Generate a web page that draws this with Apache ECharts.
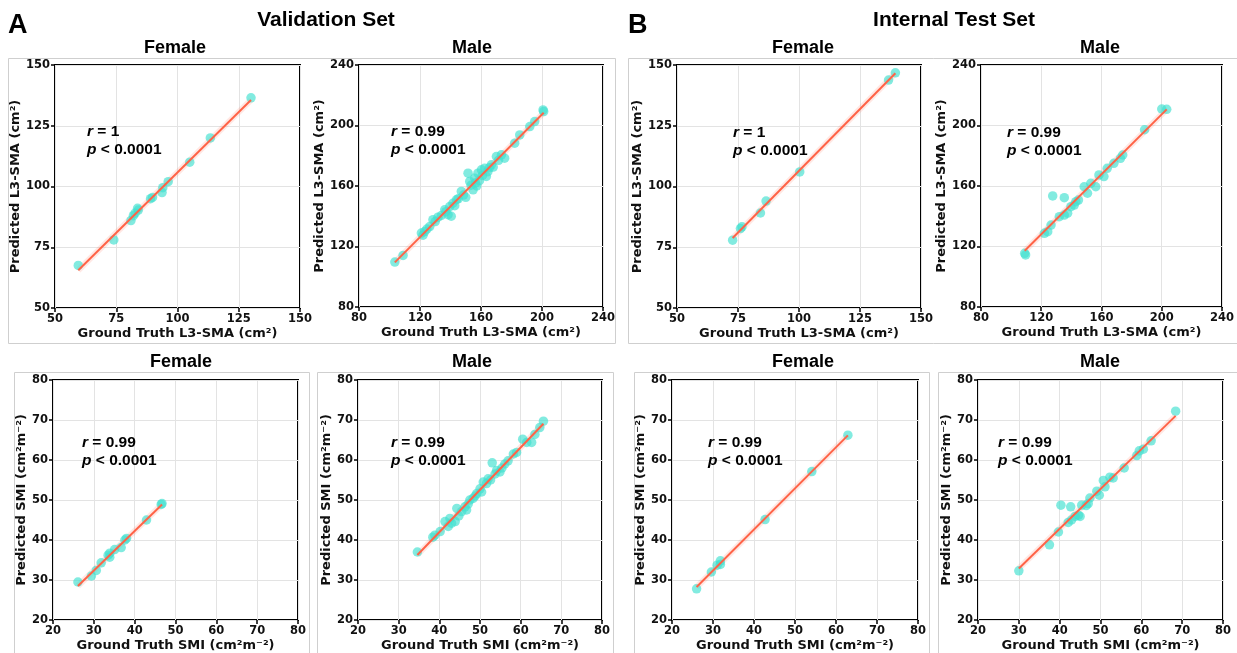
<!DOCTYPE html>
<html>
<head>
<meta charset="utf-8">
<script src="https://cdn.jsdelivr.net/npm/echarts@6/dist/echarts.min.js"></script>
<style>
html,body{margin:0;padding:0;background:#fff;}
#chart{width:1237px;height:653px;}
</style>
</head>
<body>
<div id="chart"></div>
<script>
// ---------------- DATA ----------------
// [ground truth, predicted]
const valFemaleSMA = [[59.5,67.5],[74,78],[81,86],[82,88],[82.7,89],[83.7,91],[84,90.3],[89,95],[89.8,95.5],[93.7,97.5],[94,99.5],[96.2,102],[105,110],[113.4,120],[130,136.5]];
const valMaleSMA = [[103.5,109.7],[108.9,114.1],[120.9,128.9],[122,127.5],[123.1,129.9],[124.5,131.5],[126.4,133.2],[128.5,137.7],[130,136.5],[131.8,139.4],[134,140.5],[136.2,144.3],[137,143],[138.4,141],[139.5,146.4],[140.5,140],[141.6,148.6],[142.8,147],[143.9,150.9],[145,151.5],[147.1,156.4],[148.5,154],[150,152.5],[151.5,168.5],[152.6,163],[153.5,160.5],[154.8,157.5],[155.9,165.2],[156.5,162],[157.2,160],[158,168.5],[159,163.5],[160.3,170.7],[161,167],[162.4,171.8],[163.5,166.3],[164.5,169.5],[165.5,172],[166.8,174],[168,172.5],[170.1,179.5],[171.5,177],[173.4,180.6],[175.5,178.4],[182.1,188.3],[185.4,193.8],[192,199.3],[195.2,202.6],[200.7,210.3],[201.1,209.2]];
const valFemaleSMI = [[26.1,29.5],[29.4,31],[30.6,32.4],[31.8,34.3],[33.5,36.2],[33.9,35.7],[33.9,36.7],[35.1,37.6],[36.7,38.1],[37.6,40],[38,40.4],[42.9,45],[46.5,48.9],[46.7,49.1]];
const valMaleSMI = [[34.6,37],[38.4,40.7],[38.9,41.2],[40.2,42.1],[41.4,44.6],[42.2,43.4],[42.6,45.4],[43,44.2],[43.9,44.6],[44.3,47.9],[44.8,46],[45.5,47.1],[46.3,48.3],[46.7,47.5],[47.1,49],[47.5,50],[48.3,50.4],[48.8,51],[49.2,51.6],[50,52.8],[50.4,52],[50.8,54.5],[51.6,54.1],[52,55.3],[52.6,55],[53,59.3],[53.7,56.5],[54.1,57.4],[54.9,57],[55.4,58],[56.1,59],[56.9,59.8],[58.2,61.5],[59,61.9],[60.5,65.2],[61.5,64.4],[62.7,64.4],[63.5,66.4],[64.7,68.1],[65.6,69.7]];
const testFemaleSMA = [[72.8,77.9],[76,82.7],[76.6,83.4],[84.2,89.1],[86.5,94],[100.3,106],[136.7,143.8],[139.5,146.8]];
const testMaleSMA = [[109,115.5],[109.6,114.4],[122.1,128.7],[124.3,129.8],[126.5,134.2],[127.6,153.4],[135.3,152.3],[132,139.7],[135.3,140.8],[137.5,142],[139.7,146.3],[141.9,147.4],[143,149.6],[144.7,150.7],[148.5,159.5],[150.7,155.2],[152.9,161.8],[156.2,159.5],[158.3,167.3],[161.6,166.2],[163.8,171.7],[168.2,175],[172.6,178.3],[174.1,180.5],[188.6,197.2],[200,210.9],[203.3,210.7]];
const testFemaleSMI = [[26,27.8],[29.6,32],[31,33.7],[31.8,34.8],[31.8,33.9],[42.7,45.1],[54.1,57.1],[62.9,66.2]];
const testMaleSMI = [[30,32.3],[37.5,38.8],[39.7,42],[40.3,48.7],[42.7,48.3],[42.1,44.4],[42.9,45],[43.8,45.9],[44.6,46.2],[45,45.9],[45.4,48.7],[46.5,48.6],[47,49.1],[47.4,50.5],[49.1,52.2],[49.7,51.2],[50.7,54.9],[51.1,53.3],[52.3,55.7],[53.1,55.5],[55.8,58],[58.9,61.1],[59.5,62.3],[60.5,62.7],[62.4,64.8],[68.4,72.2]];

const rValues = ['1','0.99','0.99','0.99','1','0.99','0.99','0.99'];
const pText = '< 0.0001';
const smaTicks = {min:50,max:150,interval:25};
const smaMaleTicks = {min:80,max:240,interval:40};
const smiTicks = {min:20,max:80,interval:10};
const xNameSMA = 'Ground Truth L3-SMA (cm²)';
const yNameSMA = 'Predicted L3-SMA (cm²)';
const xNameSMI = 'Ground Truth SMI (cm²m⁻²)';
const yNameSMI = 'Predicted SMI (cm²m⁻²)';

// ---------------- LAYOUT ----------------
const panels = [
  {data:valFemaleSMA, ax:smaTicks, xn:xNameSMA, yn:yNameSMA, g:{left:55,top:65,width:245,height:243}, ann:[32,67], title:'Female', tx:175, ty:48, ygap:28},
  {data:valMaleSMA, ax:smaMaleTicks, xn:xNameSMA, yn:yNameSMA, g:{left:359,top:65,width:244,height:242}, ann:[32,67], title:'Male', tx:472, ty:48, ygap:28},
  {data:valFemaleSMI, ax:smiTicks, xn:xNameSMI, yn:yNameSMI, g:{left:53,top:380,width:245,height:243}, ann:[29,63], title:'Female', tx:181, ty:362, ygap:19},
  {data:valMaleSMI, ax:smiTicks, xn:xNameSMI, yn:yNameSMI, g:{left:358,top:380,width:244,height:243}, ann:[33,63], title:'Male', tx:472, ty:362, ygap:20},
  {data:testFemaleSMA, ax:smaTicks, xn:xNameSMA, yn:yNameSMA, g:{left:677,top:65,width:244,height:243}, ann:[56,68], title:'Female', tx:803, ty:48, ygap:28},
  {data:testMaleSMA, ax:smaMaleTicks, xn:xNameSMA, yn:yNameSMA, g:{left:981,top:65,width:243,height:242}, ann:[26,68], title:'Male', tx:1100, ty:48, ygap:28},
  {data:testFemaleSMI, ax:smiTicks, xn:xNameSMI, yn:yNameSMI, g:{left:672,top:380,width:246,height:243}, ann:[36,63], title:'Female', tx:803, ty:362, ygap:19},
  {data:testMaleSMI, ax:smiTicks, xn:xNameSMI, yn:yNameSMI, g:{left:978,top:380,width:245,height:243}, ann:[20,63], title:'Male', tx:1100, ty:362, ygap:20}
];

function fit(d){
  const n=d.length; let sx=0,sy=0,sxx=0,sxy=0;
  d.forEach(p=>{sx+=p[0];sy+=p[1];sxx+=p[0]*p[0];sxy+=p[0]*p[1];});
  const b=(n*sxy-sx*sy)/(n*sxx-sx*sx); const a=(sy-b*sx)/n;
  let mn=Infinity,mx=-Infinity; d.forEach(p=>{mn=Math.min(mn,p[0]);mx=Math.max(mx,p[0]);});
  return [[mn,a+b*mn],[mx,a+b*mx]];
}

const tickFont = {fontFamily:'DejaVu Sans',fontWeight:'bold',fontSize:11.5,color:'#111'};
const nameFont = {fontFamily:'DejaVu Sans',fontWeight:'bold',fontSize:13,color:'#111'};

const grids=[],xAxes=[],yAxes=[],series=[],graphics=[];
[[8,58,607,285],[628,58,620,285],[14,372,295,300],[317,372,296,300],[634,372,295,300],[938,372,310,300]].forEach(r=>{
  graphics.push({type:'rect',shape:{x:r[0]+0.5,y:r[1]+0.5,width:r[2],height:r[3]},style:{fill:'none',stroke:'#cfcfcf',lineWidth:1},z:0});
});
panels.forEach((p,i)=>{
  grids.push(Object.assign({show:true,borderColor:'#000',borderWidth:2,backgroundColor:'#fff',containLabel:false},p.g));
  const axCommon = {
    min:p.ax.min,max:p.ax.max,interval:p.ax.interval,gridIndex:i,nameLocation:'middle',
    axisLine:{show:false},
    axisTick:{show:true,inside:false,length:4,lineStyle:{color:'#000',width:1.5}},
    splitLine:{show:true,lineStyle:{color:'#e3e3e3',width:1}},
    nameTextStyle:nameFont
  };
  xAxes.push(Object.assign({},axCommon,{type:'value',name:p.xn,nameGap:19,axisLabel:Object.assign({margin:5},tickFont)}));
  yAxes.push(Object.assign({},axCommon,{type:'value',name:p.yn,nameGap:p.ygap,axisLabel:Object.assign({margin:5},tickFont)}));
  const ln = fit(p.data);
  series.push({type:'line',xAxisIndex:i,yAxisIndex:i,data:ln,symbol:'none',lineStyle:{color:'rgba(255,99,71,0.15)',width:6},z:1,silent:true,animation:false});
  series.push({type:'scatter',xAxisIndex:i,yAxisIndex:i,data:p.data,symbolSize:9.5,itemStyle:{color:'rgba(64,224,208,0.82)'},z:2,animation:false});
  series.push({type:'line',xAxisIndex:i,yAxisIndex:i,data:ln,symbol:'none',lineStyle:{color:'#FF6347',width:2},z:3,silent:true,animation:false});
  graphics.push({type:'text',left:p.g.left+p.ann[0],top:p.g.top+p.ann[1]-9,z:10,
    style:{text:'{i|r} = '+rValues[i]+'\n{i|p} '+pText,fontFamily:'Liberation Sans',fontWeight:'bold',fontSize:15.5,fill:'#000',lineHeight:18,
      rich:{i:{fontStyle:'italic',fontFamily:'Liberation Sans',fontWeight:'bold',fontSize:15.5,lineHeight:18}}}});
  graphics.push({type:'text',x:p.tx,y:p.ty,z:10,style:{text:p.title,fontFamily:'Liberation Sans',fontWeight:'bold',fontSize:18,fill:'#000',textAlign:'center',textVerticalAlign:'middle'}});
});
graphics.push({type:'text',x:326,y:20,style:{text:'Validation Set',fontFamily:'Liberation Sans',fontWeight:'bold',fontSize:21,fill:'#000',textAlign:'center',textVerticalAlign:'middle'}});
graphics.push({type:'text',x:954,y:20,style:{text:'Internal Test Set',fontFamily:'Liberation Sans',fontWeight:'bold',fontSize:21,fill:'#000',textAlign:'center',textVerticalAlign:'middle'}});
graphics.push({type:'text',x:8,y:26,style:{text:'A',fontFamily:'Liberation Sans',fontWeight:'bold',fontSize:27,fill:'#000',textAlign:'left',textVerticalAlign:'middle'}});
graphics.push({type:'text',x:628,y:26,style:{text:'B',fontFamily:'Liberation Sans',fontWeight:'bold',fontSize:27,fill:'#000',textAlign:'left',textVerticalAlign:'middle'}});

const chart = echarts.init(document.getElementById('chart'),null,{renderer:'canvas'});
chart.setOption({animation:false,backgroundColor:'#fff',grid:grids,xAxis:xAxes,yAxis:yAxes,series:series,graphic:graphics});
</script>
</body>
</html>
